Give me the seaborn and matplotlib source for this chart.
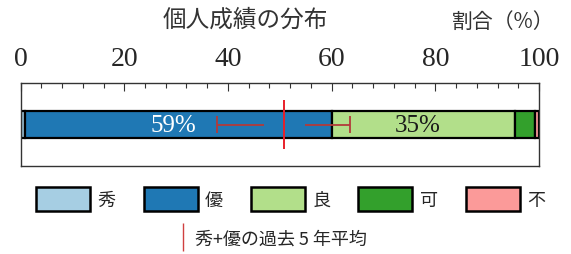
import matplotlib
matplotlib.use("Agg")
import matplotlib.pyplot as plt
from matplotlib.patches import Patch
from matplotlib.lines import Line2D
from matplotlib.ticker import MultipleLocator
import seaborn as sns

# ---- data ----
grades = ["秀", "優", "良", "可", "不"]
shares = [0.8, 59.2, 35.3, 3.9, 0.8]
pct_labels = {"優": "59%", "良": "35%"}
avg5 = 50.9          # 秀+優の過去5年平均
avg_lo, avg_hi = 37.9, 63.6

sns.set_style("white")
plt.rcParams["font.family"] = ["Noto Sans CJK JP", "DejaVu Sans"]
palette = sns.color_palette("Paired", 6)
colors = [palette[0], palette[1], palette[2], palette[3], palette[4]]

fig = plt.figure(figsize=(5.71, 2.55), dpi=100)
ax = fig.add_axes([0.036, 0.345, 0.908, 0.325])

left = 0
for g, v, c in zip(grades, shares, colors):
    ax.barh(0, v, left=left, height=0.33, color=c, edgecolor="black", linewidth=1.6)
    if g in pct_labels:
        ax.text(left + v / 2 - 1, -0.01, pct_labels[g], ha="center", va="center",
                fontsize=18, family="Liberation Serif",
                color="white" if g == "優" else "#1a1a1a")
    left += v

# error bar for 5-year average (gap around the centre line)
ecol = "#b23a3a"
gap = 3.9
ax.hlines(0, avg_lo, avg5 - gap, color=ecol, lw=1.3, zorder=4)
ax.hlines(0, avg5 + gap, avg_hi, color=ecol, lw=1.3, zorder=4)
ax.vlines([avg_lo, avg_hi], -0.1, 0.1, color=ecol, lw=1.3, zorder=4)
ax.vlines(avg5, -0.3, 0.3, color="#e8202a", lw=1.4, zorder=5)

ax.set_xlim(0, 100)
ax.set_ylim(-0.5, 0.5)
ax.set_yticks([])
ax.xaxis.set_major_locator(MultipleLocator(20))
ax.xaxis.set_minor_locator(MultipleLocator(4))
ax.tick_params(axis="x", which="both", direction="in", top=True, bottom=False,
               labeltop=True, labelbottom=False, color="#333333", width=0.8)
ax.tick_params(axis="x", which="major", length=6, pad=9, labelsize=20)
ax.tick_params(axis="x", which="minor", length=3.5)
for lab in ax.get_xticklabels():
    lab.set_family("Liberation Serif")
for s in ax.spines.values():
    s.set_color("#333333")
    s.set_linewidth(1.0)

fig.text(0.429, 0.92, "個人成績の分布", ha="center", va="center", fontsize=17, color="#333333")
fig.text(0.882, 0.915, "割合（%）", ha="center", va="center", fontsize=15, color="#333333")

handles = [Patch(facecolor=c, edgecolor="black", linewidth=1.8) for c in colors]
fig.legend(handles, grades, loc="center", bbox_to_anchor=(0.509, 0.216), ncol=5,
           frameon=False, fontsize=13, handlelength=3.0, handleheight=1.6,
           handletextpad=0.4, columnspacing=1.55)
avg_handle = Line2D([], [], linestyle="none", marker="|", markersize=20,
                    markeredgewidth=1.0, color="#d04040")
fig.legend([avg_handle], ["秀+優の過去 5 年平均"], loc="center",
           bbox_to_anchor=(0.477, 0.06), frameon=False, fontsize=13,
           handlelength=0.6, handletextpad=0.4)

fig.savefig("out.png", dpi=100)
